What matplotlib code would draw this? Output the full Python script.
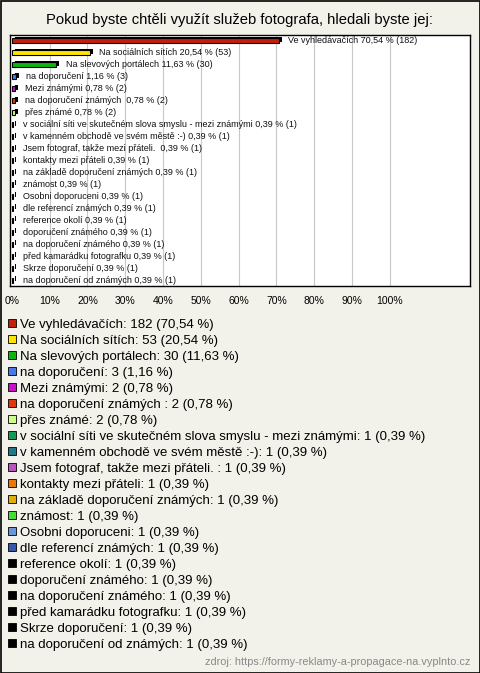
import matplotlib.pyplot as plt
from matplotlib.patches import Patch
import numpy as np

plt.rcParams['font.family'] = ['Liberation Sans', 'DejaVu Sans']

# data
labels = [
    'Ve vyhledávačích', 'Na sociálních sítích', 'Na slevových portálech',
    'na doporučení', 'Mezi známými', 'na doporučení známých ', 'přes známé',
    'v sociální síti ve skutečném slova smyslu - mezi známými',
    'v kamenném obchodě ve svém městě :-)', 'Jsem fotograf, takže mezi přáteli. ',
    'kontakty mezi přáteli', 'na základě doporučení známých', 'známost',
    'Osobni doporuceni', 'dle referencí známých', 'reference okolí',
    'doporučení známého', 'na doporučení známého', 'před kamarádku fotografku',
    'Skrze doporučení', 'na doporučení od známých',
]
counts = [182, 53, 30, 3, 2, 2, 2, 1, 1, 1, 1, 1, 1, 1, 1, 1, 1, 1, 1, 1, 1]
percents = [70.54, 20.54, 11.63, 1.16, 0.78, 0.78, 0.78, 0.39, 0.39, 0.39, 0.39,
            0.39, 0.39, 0.39, 0.39, 0.39, 0.39, 0.39, 0.39, 0.39, 0.39]
colors = [
    '#c41e0c', '#ffe400', '#0fb50f', '#4a78e8', '#c90fc9', '#e0380c', '#ccff88',
    '#139958', '#217888', '#bb55bb', '#e8780c', '#dfae0a', '#44dd33', '#6b96dc',
    '#3558ad', '#000000', '#000000', '#000000', '#000000', '#000000', '#000000',
]
xticks = [0, 10, 20, 30, 40, 50, 60, 70, 80, 90, 100]

bg = '#f2f1ea'
fig = plt.figure(figsize=(4.8, 6.73), dpi=100, facecolor=bg)
W, H = 480, 673

# okraj kolem celeho obrazku
fig.patches.append(plt.Rectangle((0.5 / W, 0.5 / H), 1 - 1 / W, 1 - 1 / H,
                                 transform=fig.transFigure, fill=False,
                                 edgecolor='black', linewidth=1.2))

fig.text(0.5, 1 - 20 / H, 'Pokud byste chtěli využít služeb fotografa, hledali byste jej:',
         ha='center', va='center', fontsize=10.6)

ax = fig.add_axes([10 / W, 1 - 286 / H, 460 / W, 251 / H])
ax.set_facecolor('white')
ax.set_xlim(-0.5, 121.2)
ax.set_ylim(20.5, -0.5)

for x in xticks[1:]:
    ax.axvline(x, color='#c8c8c8', linewidth=0.8, zorder=0)

y = np.arange(len(labels))
fmt = lambda v: f'{v:.2f}'.replace('.', ',')
# "3D" stin za sloupcem
ax.barh(y - 0.12, percents, left=0.8, height=0.42, color='black', zorder=2)
ax.barh(y, percents, height=0.42, color=colors, edgecolor='black', linewidth=0.8, zorder=3)
for i in range(len(labels)):
    ax.text(percents[i] + 2.6, y[i], f'{labels[i]} {fmt(percents[i])} % ({counts[i]})',
            va='center', ha='left', fontsize=6.5, color='#111111', zorder=4)

ax.set_xticks(xticks)
ax.set_xticklabels([f'{t}%' for t in xticks], fontsize=7.5)
ax.tick_params(axis='x', length=0, pad=7)
ax.set_yticks([])
for s in ax.spines.values():
    s.set_linewidth(1.0)

handles = [Patch(facecolor=c, edgecolor='black', linewidth=0.6) for c in colors]
leg_labels = [f'{l}: {c} ({fmt(p)} %)' for l, c, p in zip(labels, counts, percents)]
fig.legend(handles, leg_labels, loc='upper left', bbox_to_anchor=(5 / W, 1 - 316 / H),
           frameon=False, fontsize=9.5, handlelength=0.65, handleheight=0.65,
           handletextpad=0.25, labelspacing=0.3, borderaxespad=0, borderpad=0.2)

fig.text(1 - 10 / W, 1 - 662 / H, 'zdroj: https://formy-reklamy-a-propagace-na.vyplnto.cz',
         ha='right', va='center', fontsize=7.8, color='#888888')

fig.savefig('out.png', dpi=100, facecolor=bg)
